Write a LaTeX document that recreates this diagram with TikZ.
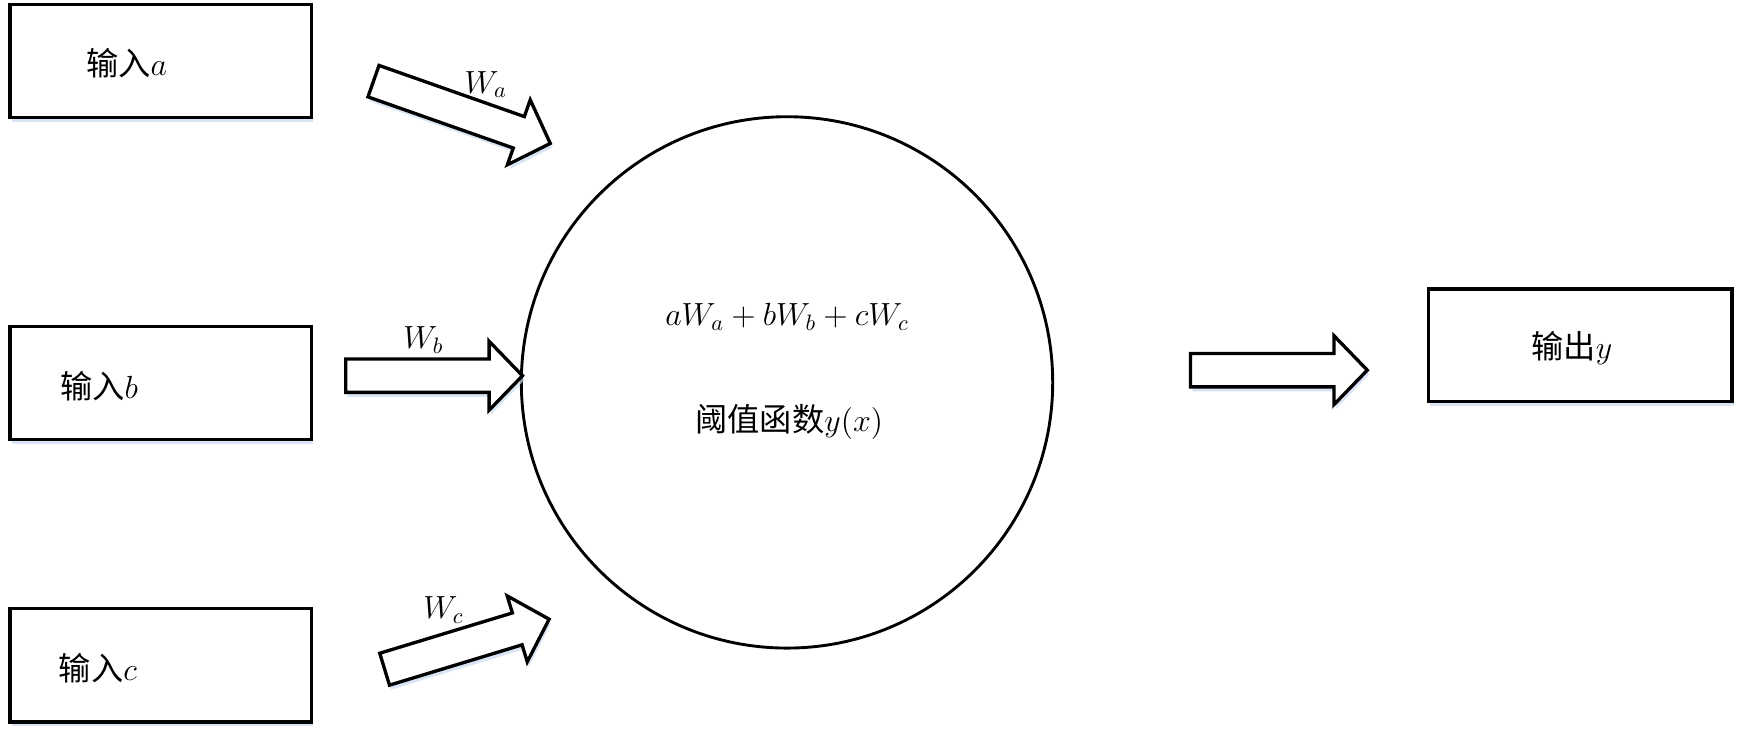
\documentclass[tikz,border=0pt]{standalone}
\usepackage{fontspec}
\newfontfamily\cjk{Noto Sans CJK SC}
\usetikzlibrary{calc,shadows}
\definecolor{shadowblue}{RGB}{200,218,240}
\newcommand\blockarrow[2]{%
  \coordinate (#1-h) at ($(#2)!15pt!(#1)$);
  \draw[blockarr] ($(#1)!7.5pt!90:(#2)$) -- ($(#1-h)!7.5pt!90:(#2)$) -- ($(#1-h)!15.5pt!90:(#2)$) -- (#2)
     -- ($(#1-h)!15.5pt!-90:(#2)$) -- ($(#1-h)!7.5pt!-90:(#2)$) -- ($(#1)!7.5pt!-90:(#2)$) -- cycle;}
\tikzset{
  softshadow/.style={drop shadow={fill=shadowblue, opacity=0.7, shadow xshift=0.8pt, shadow yshift=-2pt}},
  box/.style={draw, line width=1.5pt, fill=white, minimum width=135.5pt, minimum height=51pt, inner sep=0pt, softshadow},
  lbl/.style={font=\fontsize{14.5}{16}\selectfont, inner sep=0pt},
  blockarr/.style={draw, line width=1.5pt, line join=miter, fill=white, softshadow},
  neuron/.style={circle, draw, line width=1.3pt, minimum size=239pt, inner sep=0pt}
}
\begin{document}
\begin{tikzpicture}[x=0.5pt,y=-0.5pt]
\fill[white] (0,0) rectangle (1568,664);
\useasboundingbox (0,0) rectangle (1568,664);
% boxes
\node[box] (ina) at (144.5,55) {};
\node[box] (inb) at (144.5,344.5) {};
\node[box] (inc) at (144.5,598.5) {};
\node[box, minimum width=136.5pt, minimum height=50.5pt] (outy) at (1421.5,310.5) {};
\node[lbl] (ta) at (114,57) {{\cjk 输入}$a$};
\node[lbl] (tb) at (89,347) {{\cjk 输入}$b$};
\node[lbl] (tc) at (88,601) {{\cjk 输入}$c$};
\node[lbl] (ty) at (1414,313) {{\cjk 输出}$y$};
% neuron
\node[neuron] (neuron) at (708,344) {};
\node[lbl] (sum) at (708,285) {$aW_a+bW_b+cW_c$};
\node[lbl] (thr) at (710,380) {{\cjk 阈值函数}$y(x)$};
% arrows
\coordinate (ta0) at (336,73);  \coordinate (pa) at (495,129);
\coordinate (tb0) at (311,338); \coordinate (pb) at (470,338);
\coordinate (tc0) at (346,602); \coordinate (pc) at (494,557);
\coordinate (to0) at (1071,333); \coordinate (po) at (1230,333);
\blockarrow{ta0}{pa}
\blockarrow{tb0}{pb}
\blockarrow{tc0}{pc}
\blockarrow{to0}{po}
\node[lbl] (wa) at (437,76) {$W_a$};
\node[lbl] (wb) at (381,306) {$W_b$};
\node[lbl] (wc) at (399,549) {$W_c$};
\end{tikzpicture}
\end{document}
